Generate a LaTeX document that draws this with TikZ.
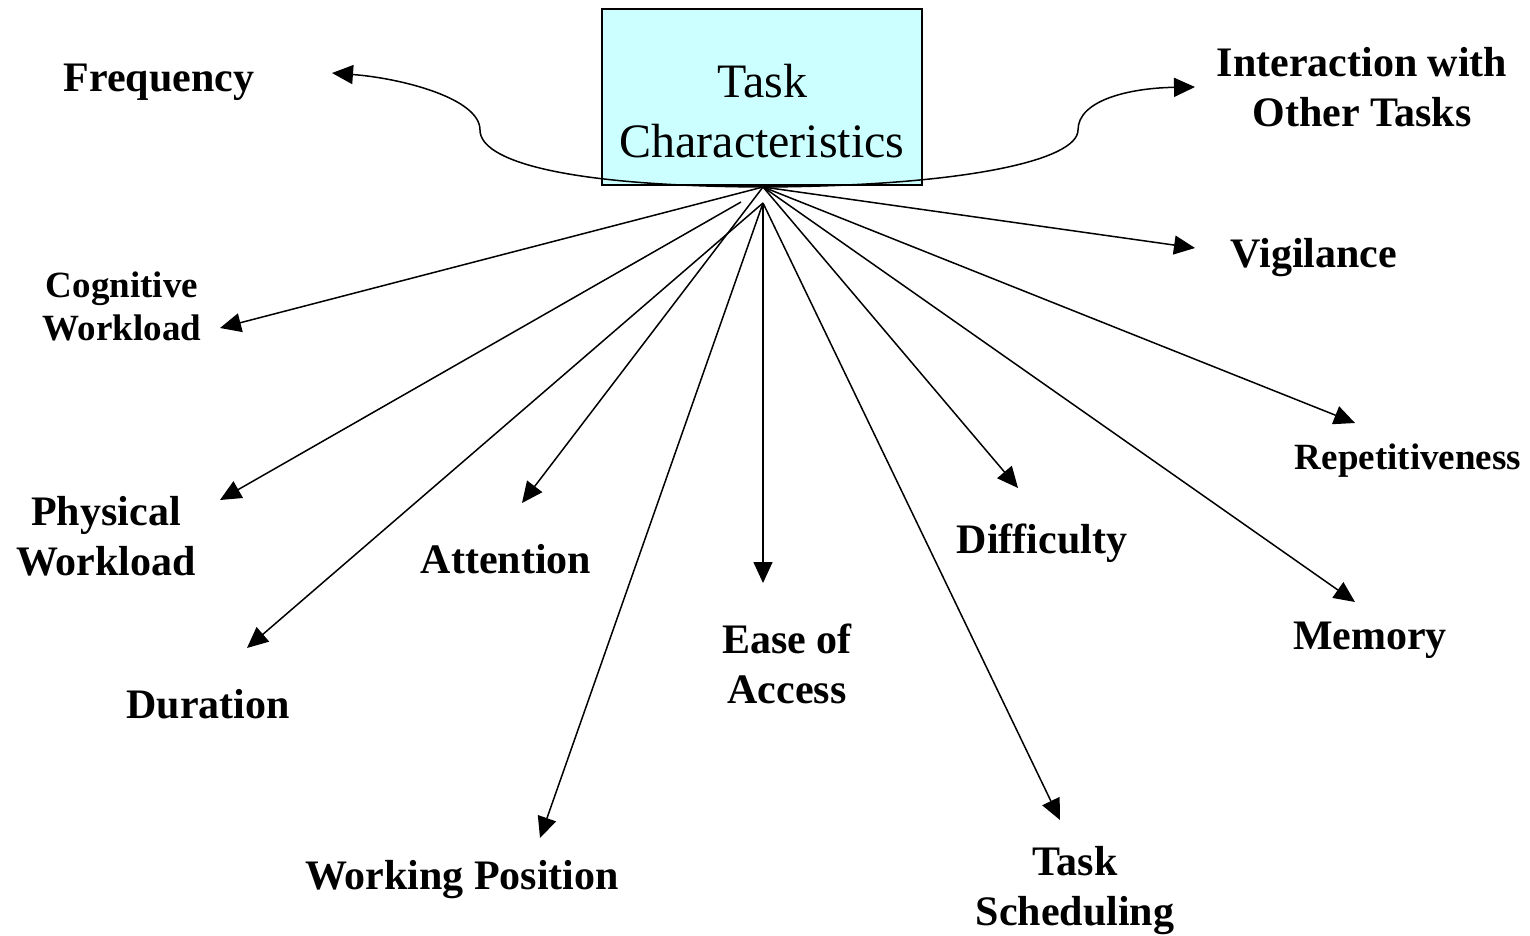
\documentclass[tikz,border=0pt]{standalone}
\usepackage{fontspec}
\setmainfont{Liberation Serif}
\usetikzlibrary{arrows.meta}
\begin{document}
\begin{tikzpicture}[x=1pt,y=-1pt,
  lbl/.style={font=\fontsize{42}{50}\selectfont\bfseries, align=center, inner sep=0pt, yshift=-3pt},
  lblsm/.style={font=\fontsize{37}{43}\selectfont\bfseries, align=center, inner sep=0pt, yshift=-2pt},
  conn/.style={line width=1.5pt, -{Triangle[length=21pt,width=19pt]}},
  box/.style={draw, line width=1.8pt, fill=boxcyan, minimum width=320pt, minimum height=176pt, inner sep=0pt},
  boxtext/.style={align=center, inner sep=0pt, font=\fontsize{48}{60}\selectfont}]
\definecolor{boxcyan}{HTML}{CCFFFF}
\useasboundingbox (0,0) rectangle (1530,935);
\node[box] (tc) at (762,97) {};
\node[boxtext] (tct) at (762,111) {Task\\Characteristics};
\coordinate (o1) at (763,187);
\coordinate (o2) at (763,203);
\coordinate (op) at (741,202);
% labels
\node[lbl] (freq) at (159,79) {Frequency};
\node[lbl] (inter) at (1362,84) {Interaction with\\Other Tasks};
\node[lbl] (vig) at (1314,255) {Vigilance};
\node[lblsm] (cog) at (122,304) {Cognitive\\Workload};
\node[lblsm] (rep) at (1408,459) {Repetitiveness};
\node[lbl] (phys) at (106,533) {Physical\\Workload};
\node[lbl] (att) at (506,556) {Attention};
\node[lbl] (diff) at (1042,540) {Difficulty};
\node[lbl] (dur) at (208,701) {Duration};
\node[lbl] (ease) at (787,661) {Ease of\\Access};
\node[lbl] (mem) at (1370,637) {Memory};
\node[lbl] (work) at (462,877) {Working Position};
\node[lbl] (sched) at (1075,888) {Task\\Scheduling};
% arrow tips
\coordinate (tcog) at (220,328);
\coordinate (tphys) at (220,500);
\coordinate (tdur) at (247,648);
\coordinate (tatt) at (522,503);
\coordinate (twork) at (540,838);
\coordinate (tease) at (763,583);
\coordinate (tsched) at (1060,820);
\coordinate (tdiff) at (1018,488);
\coordinate (tmem) at (1355,602);
\coordinate (trep) at (1355,423);
\coordinate (tvig) at (1195,248);
\coordinate (tfreq) at (332,73);
\coordinate (tinter) at (1195,87);
% connectors
\draw[conn] (o1) .. controls (560,186) and (480,160) .. (480,130) .. controls (480,98) and (400,78) .. (tfreq);
\draw[conn] (o1) .. controls (966,186) and (1078,160) .. (1078,130) .. controls (1078,100) and (1130,88) .. (tinter);
\draw[conn] (o1) -- (tcog);
\draw[conn] (op) -- (tphys);
\draw[conn] (o2) -- (tdur);
\draw[conn] (o1) -- (tatt);
\draw[conn] (o2) -- (twork);
\draw[conn] (o2) -- (tease);
\draw[conn] (o2) -- (tsched);
\draw[conn] (o1) -- (tdiff);
\draw[conn] (o1) -- (tmem);
\draw[conn] (o1) -- (trep);
\draw[conn] (o1) -- (tvig);
\end{tikzpicture}
\end{document}
